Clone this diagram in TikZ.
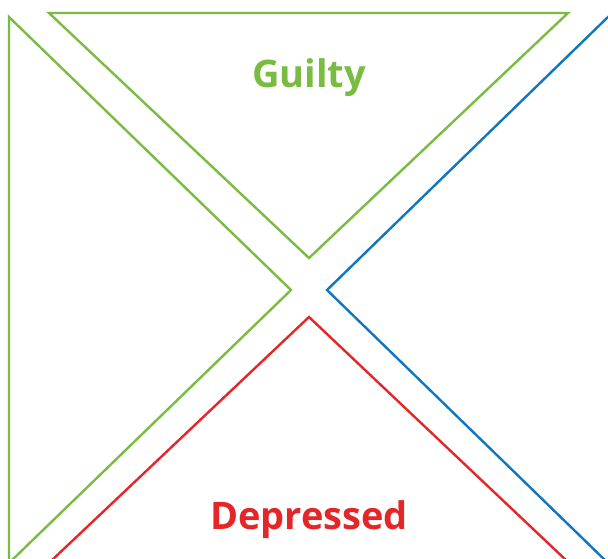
\documentclass[tikz,border=0pt]{standalone}
\usepackage{fontspec}
\setmainfont{Open Sans}
\usetikzlibrary{positioning}

\definecolor{guiltygreen}{RGB}{122,188,66}
\definecolor{sideblue}{RGB}{16,118,192}
\definecolor{depred}{RGB}{228,38,40}

\begin{document}
\begin{tikzpicture}[
    x=1pt, y=-1pt,
    tri/.style={line width=2.4pt, line join=miter},
    lbl/.style={font=\bfseries\fontsize{38}{44}\selectfont, inner sep=0pt, anchor=base}
  ]
    \useasboundingbox (0,0) rectangle (608,558);
    \clip (0,0) rectangle (608,558);

    % four triangles meeting in the middle
    \draw[tri, guiltygreen] (49,13) -- (568,13) -- (309,258) -- cycle;
    \draw[tri, guiltygreen] (9,17) -- (291,290) -- (9,563) -- cycle;
    \draw[tri, sideblue]    (609,16) -- (327,290) -- (609,564);
    \draw[tri, depred]      (50,562) -- (309,317) -- (568,562);

    \node[lbl, text=guiltygreen] (guilty)    at (309,87)  {Guilty};
    \node[lbl, text=depred]      (depressed) at (309,529) {Depressed};
  \end{tikzpicture}
\end{document}
